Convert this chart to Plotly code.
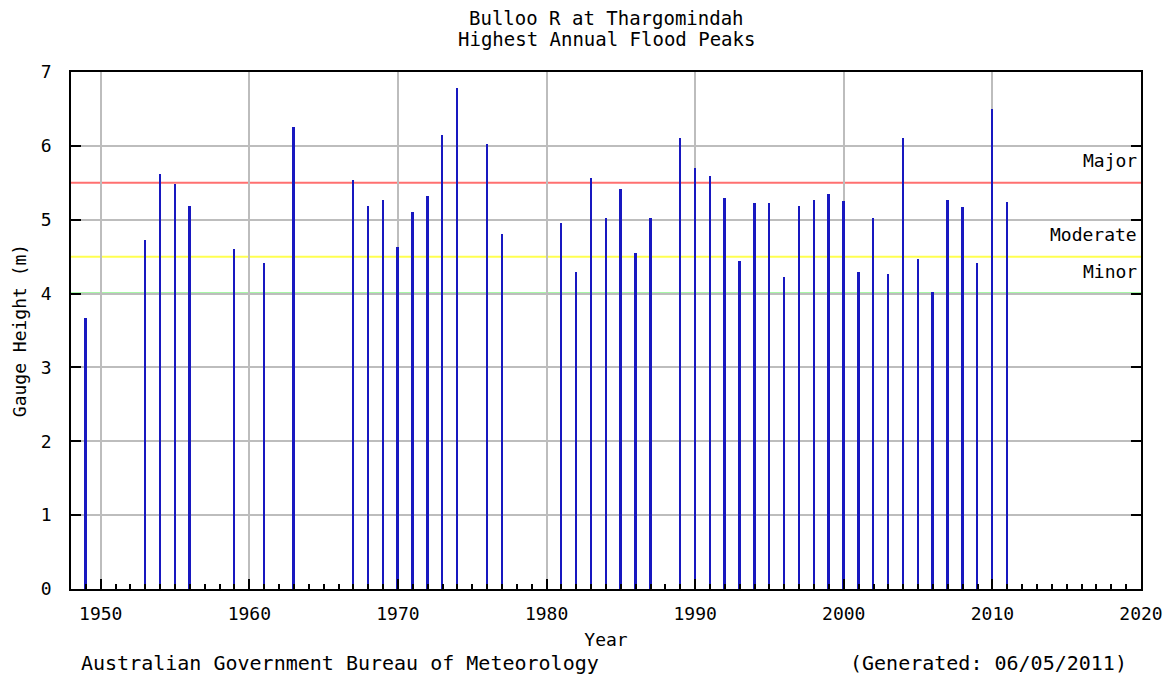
import plotly.graph_objects as go

years = [1949, 1953, 1954, 1955, 1956, 1959, 1961, 1963, 1967, 1968, 1969, 1970,
         1971, 1972, 1973, 1974, 1976, 1977, 1981, 1982, 1983, 1984, 1985, 1986,
         1987, 1989, 1990, 1991, 1992, 1993, 1994, 1995, 1996, 1997, 1998, 1999,
         2000, 2001, 2002, 2003, 2004, 2005, 2006, 2007, 2008, 2009, 2010, 2011]
peaks = [3.67, 4.73, 5.62, 5.49, 5.19, 4.60, 4.42, 6.26, 5.54, 5.19, 5.27, 4.63,
         5.11, 5.32, 6.15, 6.79, 6.02, 4.81, 4.95, 4.29, 5.56, 5.03, 5.41, 4.55,
         5.03, 6.10, 5.70, 5.59, 5.30, 4.44, 5.22, 5.22, 4.23, 5.19, 5.27, 5.35,
         5.25, 4.29, 5.03, 4.26, 6.10, 4.47, 4.02, 5.27, 5.17, 4.42, 6.50, 5.24]

levels = ["Major", "Moderate", "Minor"]
level_values = [5.5, 4.5, 4.0]
level_colors = ["#FF7070", "#FFFF50", "#50F050"]

title_lines = ["Bulloo R at Thargomindah", "Highest Annual Flood Peaks"]
footer_left = "Australian Government Bureau of Meteorology"
footer_right = "(Generated: 06/05/2011)"

FONT = "DejaVu Sans Mono"

fig = go.Figure()
fig.add_trace(go.Bar(x=years, y=peaks, width=0.13,
                     marker=dict(color="#1818C0", line=dict(width=0)),
                     hoverinfo="x+y"))

for name, val, col in zip(levels, level_values, level_colors):
    fig.add_shape(type="line", xref="paper", x0=0, x1=1, yref="y", y0=val, y1=val,
                  line=dict(color=col, width=2), layer="below")
    fig.add_annotation(text=name, xref="paper", x=0.998, xanchor="right",
                       yref="y", y=val, yanchor="middle", yshift=22,
                       showarrow=False, font=dict(family=FONT, size=18, color="black"))

for line, ypos in zip(title_lines, [1.1054, 1.0629]):
    fig.add_annotation(text=line, xref="paper", x=0.5, xanchor="center",
                       yref="paper", y=ypos, yanchor="middle", showarrow=False,
                       font=dict(family=FONT, size=19, color="black"))

fig.add_annotation(text=footer_left, xref="paper",
                   x=0.0075, xanchor="left", yref="paper", y=-0.1425, yanchor="middle",
                   showarrow=False, font=dict(family=FONT, size=20, color="black"))
fig.add_annotation(text=footer_right, xref="paper",
                   x=0.989, xanchor="right", yref="paper", y=-0.1425, yanchor="middle",
                   showarrow=False, font=dict(family=FONT, size=20, color="black"))

fig.update_layout(
    width=1175, height=674,
    margin=dict(l=71, r=28, t=72, b=85),
    paper_bgcolor="white", plot_bgcolor="white",
    showlegend=False,
    font=dict(family=FONT, size=18, color="black"),
    bargap=0,
)
fig.update_xaxes(range=[1948, 2020], tick0=1950, dtick=10,
                 ticks="inside", ticklen=10, tickwidth=1.5, tickcolor="black",
                 ticklabelstandoff=8,
                 showline=True, linecolor="black", linewidth=1.5, mirror=True,
                 showgrid=True, gridcolor="#BDBDBD", gridwidth=2, zeroline=False,
                 minor=dict(dtick=1, ticks="inside", ticklen=5, tickwidth=1.5,
                            tickcolor="black", showgrid=False),
                 title=dict(text="Year", standoff=10, font=dict(family=FONT, size=18)),
                 tickfont=dict(family=FONT, size=18))
fig.update_yaxes(range=[0, 7], dtick=1,
                 ticks="inside", ticklen=10, tickwidth=1.5, tickcolor="black",
                 ticklabelstandoff=14,
                 showline=True, linecolor="black", linewidth=1.5, mirror="ticks",
                 showgrid=True, gridcolor="#BDBDBD", gridwidth=2, zeroline=False,
                 title=dict(text="Gauge Height (m)", standoff=10, font=dict(family=FONT, size=18)),
                 tickfont=dict(family=FONT, size=18))

fig.write_html("out.html", config={"displayModeBar": False},
               post_script="document.body.style.margin='0';document.body.style.overflow='hidden';")
